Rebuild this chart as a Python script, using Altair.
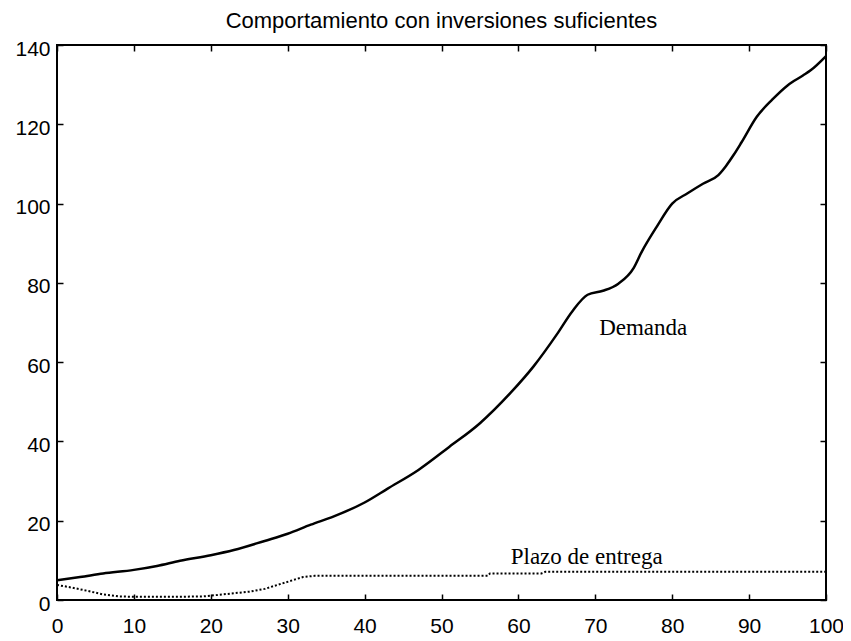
import altair as alt
import pandas as pd

# Demanda (solid line)
demanda_x = [0, 3, 6, 10, 13, 16, 20, 23, 27, 30, 33, 36, 40, 43, 47, 51, 55, 59, 62, 65,
             67, 69, 71, 73, 75, 76, 78, 80, 82, 84, 86, 87, 88, 89, 91, 93, 95, 97, 98, 100]
demanda_y = [5.0, 5.8, 6.7, 7.6, 8.6, 9.9, 11.3, 12.6, 14.9, 16.7, 19.0, 21.1, 24.6, 28.1,
             32.8, 38.6, 44.6, 52.3, 59.0, 67.0, 72.8, 77.0, 78.0, 79.8, 83.8, 87.7, 94.2,
             100.0, 102.6, 105.0, 107.2, 109.5, 112.3, 115.4, 121.9, 126.2, 129.8, 132.3,
             133.6, 137.2]

# Plazo de entrega (dotted line)
plazo_x = [0, 2, 4, 6, 8, 10, 15, 19, 21, 23, 25, 27, 29, 31, 32, 33.5, 40, 50, 56,
           56.3, 63, 63.5, 70, 80, 90, 100]
plazo_y = [3.8, 3.1, 2.3, 1.4, 0.9, 0.8, 0.8, 0.9, 1.3, 1.7, 2.1, 2.8, 4.0, 5.2, 5.8,
           6.1, 6.1, 6.1, 6.1, 6.7, 6.7, 7.1, 7.1, 7.1, 7.1, 7.1]

# In-plot labels
label_text = ["Demanda", "Plazo de entrega"]
label_x = [70.5, 59.0]
label_y = [66.9, 9.0]

x_ticks = [0, 10, 20, 30, 40, 50, 60, 70, 80, 90, 100]
y_ticks = [0, 20, 40, 60, 80, 100, 120, 140]

W, H = 769, 555

df_d = pd.DataFrame({"x": demanda_x, "y": demanda_y})
df_p = pd.DataFrame({"x": plazo_x, "y": plazo_y})
df_t = pd.DataFrame({"x": label_x, "y": label_y, "t": label_text})

xs = alt.Scale(domain=[0, 100], nice=False, zero=False)
ys = alt.Scale(domain=[0, 140], nice=False, zero=False)

lab = dict(labelFont="Liberation Sans", labelFontSize=21, labelColor="black",
           labelFlush=False, labelOverlap=False, labelBound=False)
tick_only = dict(labels=False, domain=False, ticks=True, tickSize=6, tickWidth=1.5,
                 tickColor="black", grid=False, title=None)

# layer 1: line + labelled axes
l1 = alt.Chart(df_d).mark_line(color="black", strokeWidth=2.5, interpolate="monotone").encode(
    x=alt.X("x:Q", scale=xs, axis=alt.Axis(orient="bottom", values=x_ticks, ticks=False,
                                           tickSize=0, domain=False, grid=False, title=None,
                                           labelPadding=15, **lab)),
    y=alt.Y("y:Q", scale=ys, axis=alt.Axis(orient="left", values=y_ticks, ticks=False,
                                           tickSize=0, domain=False, grid=False, title=None,
                                           labelPadding=7, labelOffset=4, **lab)),
)

# layer 2: dotted line + inward ticks at bottom and left
l2 = alt.Chart(df_p).mark_line(color="black", strokeWidth=2, strokeDash=[2, 2]).encode(
    x=alt.X("x:Q", scale=xs, axis=alt.Axis(orient="top", offset=-H, values=x_ticks, **tick_only)),
    y=alt.Y("y:Q", scale=ys, axis=alt.Axis(orient="right", offset=-W, values=y_ticks, **tick_only)),
)

# layer 3: text labels + inward ticks at top and right
l3 = alt.Chart(df_t).mark_text(font="Liberation Serif", fontSize=23, color="black",
                               align="left", baseline="alphabetic").encode(
    x=alt.X("x:Q", scale=xs, axis=alt.Axis(orient="bottom", offset=-H, values=x_ticks, **tick_only)),
    y=alt.Y("y:Q", scale=ys, axis=alt.Axis(orient="left", offset=-W, values=y_ticks, **tick_only)),
    text="t:N",
)

chart = alt.layer(l1, l2, l3).resolve_axis(x="independent", y="independent").properties(
    width=W, height=H,
    title=alt.Title("Comportamiento con inversiones suficientes", font="Liberation Sans",
                    fontSize=22, fontWeight="normal", color="black", anchor="middle",
                    baseline="alphabetic", offset=15, frame="group", dy=27),
    autosize=alt.AutoSizeParams(type="none"),
    padding={"left": 49, "top": 37, "right": 17, "bottom": 38},
).configure_view(stroke="black", strokeWidth=2)

chart.save("out.html", embed_options={"renderer": "svg", "actions": False})
